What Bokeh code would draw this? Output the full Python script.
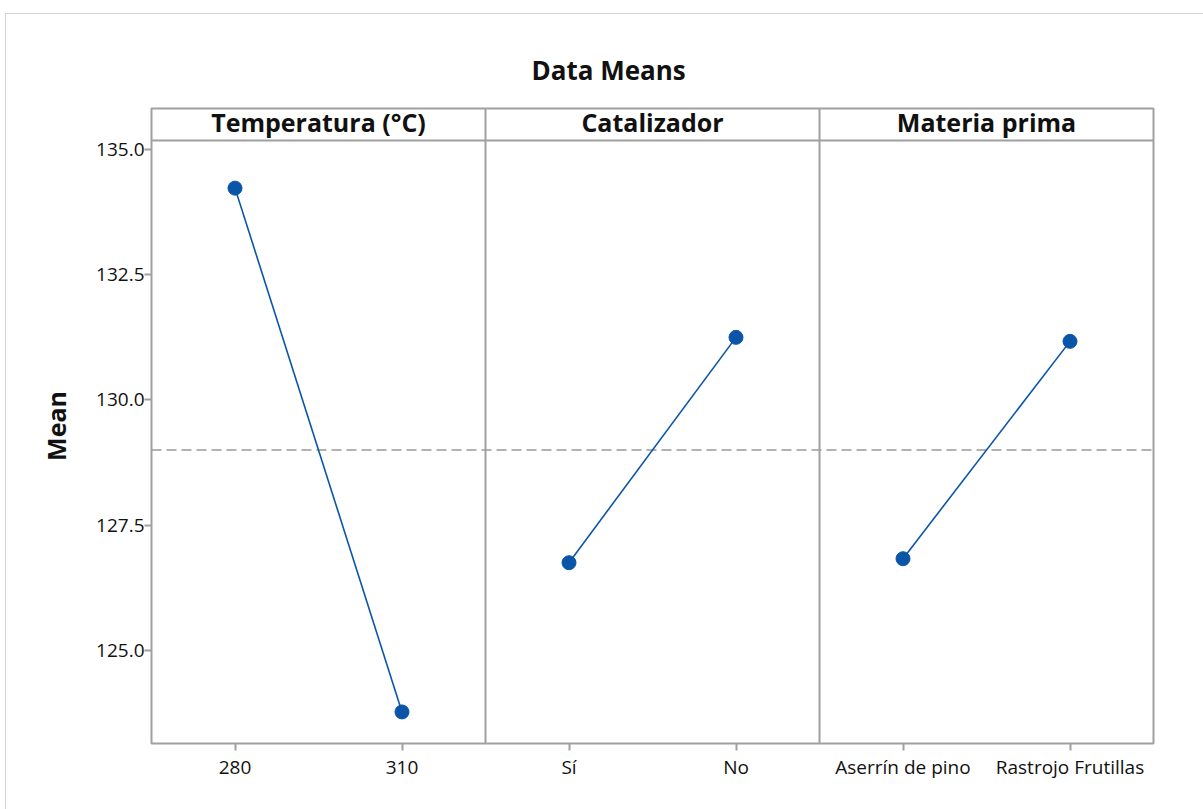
import numpy as np
from bokeh.plotting import figure
from bokeh.models import (FactorRange, Range1d, Span, Title, ColumnDataSource,
                          FixedTicker, NumeralTickFormatter)
from bokeh.core.properties import value
from bokeh.embed import file_html
from bokeh.resources import INLINE

# ---- data ----
factor_names = ["Temperatura (°C)", "Catalizador", "Materia prima"]
temperatura_levels = ["280", "310"]
catalizador_levels = ["Sí", "No"]
materia_levels = ["Aserrín de pino", "Rastrojo Frutillas"]
temperatura_means = [134.23, 123.77]
catalizador_means = [126.75, 131.25]
materia_means = [126.83, 131.17]
y_ticks = [125.0, 127.5, 130.0, 132.5, 135.0]

levels = [temperatura_levels, catalizador_levels, materia_levels]
means = [temperatura_means, catalizador_means, materia_means]
grand_mean = float(np.mean(temperatura_means + catalizador_means + materia_means))

# ---- layout constants ----
Y_LO, Y_HI = 123.14, 135.82
HEADER_BOTTOM = 135.18
HEADER_TEXT_Y = 135.55
GRAY = "#A0A0A0"
BLUE = "#0A55A8"
FONT = "Open Sans"

all_levels = [lv for grp in levels for lv in grp]

p = figure(
    width=1197, height=795,
    x_range=FactorRange(factors=all_levels, factor_padding=0, range_padding=0),
    y_range=Range1d(Y_LO, Y_HI),
    output_backend="svg", toolbar_location=None, title=None,
    min_border_left=145, min_border_right=50, min_border_top=94, min_border_bottom=66,
    margin=(14, 0, 0, 6),
)
p.styles = {"outline": "1px solid #D4D4D4"}
p.background_fill_color = "white"
p.border_fill_color = "white"
p.outline_line_color = GRAY
p.outline_line_width = 2
p.xgrid.grid_line_color = None
p.ygrid.grid_line_color = None

# title
t = Title(text="Data Means", align="left", offset=380, standoff=42,
          text_font=FONT, text_font_size="26px", text_font_style="bold",
          text_color="#111111")
p.add_layout(t, "above")

# y axis
yax = p.yaxis[0]
yax.ticker = FixedTicker(ticks=y_ticks)
yax.formatter = NumeralTickFormatter(format="0.0")
yax.axis_label = "Mean"
yax.axis_label_text_font = FONT
yax.axis_label_text_font_size = "25px"
yax.axis_label_text_font_style = "bold"
yax.axis_label_text_color = "#111111"
yax.axis_label_standoff = 20
yax.major_label_text_font = FONT
yax.major_label_text_font_size = "19px"
yax.major_label_text_color = "#111111"
yax.major_label_standoff = 0
yax.major_tick_out = 7
yax.major_tick_in = 0
yax.major_tick_line_color = GRAY
yax.major_tick_line_width = 2
yax.minor_tick_line_color = None
yax.axis_line_color = None

# x axis
xax = p.xaxis[0]
xax.major_label_text_font = FONT
xax.major_label_text_font_size = "19px"
xax.major_label_text_color = "#111111"
xax.major_label_standoff = 3
xax.major_tick_out = 7
xax.major_tick_in = 0
xax.major_tick_line_color = GRAY
xax.major_tick_line_width = 2
xax.axis_line_color = None

# panel dividers and header strip
for i in range(1, len(levels)):
    p.add_layout(Span(location=2 * i, dimension="height",
                      line_color=GRAY, line_width=2))
p.add_layout(Span(location=HEADER_BOTTOM, dimension="width",
                  line_color=GRAY, line_width=2))

# grand mean reference line
p.add_layout(Span(location=grand_mean, dimension="width", line_color="#999999",
                  line_width=1.5, line_dash="10 5", level="underlay"))

# header labels
hdr = ColumnDataSource(dict(
    x=[2 * i + 1 for i in range(len(factor_names))],
    y=[HEADER_TEXT_Y] * len(factor_names),
    t=factor_names,
))
p.text(x="x", y="y", text="t", source=hdr, text_align="center",
       text_baseline="middle", text_font=value(FONT),
       text_font_size="25px", text_font_style="bold", text_color="#111111")

# effect lines
seg = ColumnDataSource(dict(
    x0=[g[0] for g in levels], x1=[g[1] for g in levels],
    y0=[m[0] for m in means], y1=[m[1] for m in means],
))
p.segment(x0="x0", y0="y0", x1="x1", y1="y1", source=seg,
          line_color=BLUE, line_width=1.6)

pts = ColumnDataSource(dict(x=all_levels, y=[v for m in means for v in m]))
p.scatter(x="x", y="y", source=pts, size=14, fill_color=BLUE, line_color=BLUE)

open("out.html", "w").write(file_html(p, INLINE))
